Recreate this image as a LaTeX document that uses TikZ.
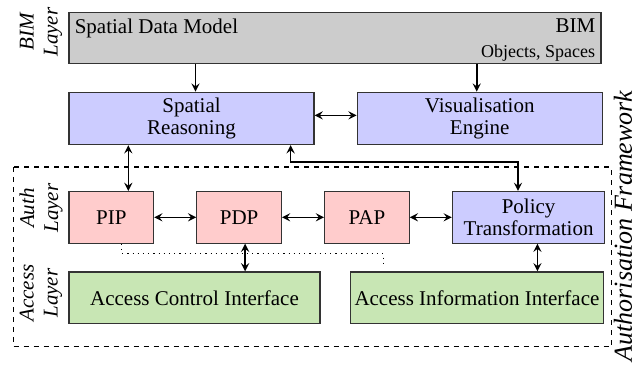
\documentclass[tikz,border=0pt]{standalone}
\usepackage{fontspec}
\setmainfont{Liberation Serif}
\usetikzlibrary{arrows, positioning}

\definecolor{bimgray}{RGB}{204,204,204}
\definecolor{svcblue}{RGB}{204,204,255}
\definecolor{authpink}{RGB}{255,204,204}
\definecolor{accgreen}{RGB}{200,230,180}

\tikzset{
  box/.style={draw=black!80, line width=0.6pt, minimum height=25.8pt, inner sep=2pt, align=center},
  layerlabel/.style={rotate=90, align=center, font=\fontsize{10.5}{12}\selectfont\itshape},
  link/.style={<->, >=stealth, line width=0.8pt},
  oneway/.style={->, >=stealth, line width=0.8pt},
}

\begin{document}
\begin{tikzpicture}[x=0.5pt, y=-0.5pt, node distance=21pt, font=\fontsize{10.5}{11}\selectfont]
        \useasboundingbox (0,0) rectangle (636,365);

        % BIM layer
        \node[box, fill=bimgray, minimum width=266pt, minimum height=25.3pt] (bim) at (335,38) {};
        \node[anchor=north west, inner sep=3pt] (sdm) at (bim.north west) {Spatial Data Model};
        \node[anchor=north east, inner sep=3pt] (bimname) at (bim.north east) {BIM};
        \node[anchor=north east, inner sep=3pt, font=\fontsize{9}{11}\selectfont] (bimobj) at (bimname.south east) {Objects, Spaces};

        \node[box, fill=svcblue, minimum width=122.5pt, minimum height=26.2pt, below right=13.85pt and 0pt of bim.south west] (sr) {Spatial\\Reasoning};
        \node[box, fill=svcblue, minimum width=122.5pt, minimum height=26.2pt, right=of sr] (ve) {Visualisation\\Engine};

        % auth layer
        \node[box, fill=authpink, minimum width=42.3pt, below right=22.85pt and 0pt of sr.south west] (pip) {PIP};
        \node[box, fill=authpink, minimum width=42.3pt, right=of pip] (pdp) {PDP};
        \node[box, fill=authpink, minimum width=42.3pt, right=of pdp] (pap) {PAP};
        \node[box, fill=svcblue, minimum width=76.2pt, right=of pap] (pt) {Policy\\Transformation};

        % access layer
        \node[box, fill=accgreen, minimum width=125.5pt, below right=13.8pt and 0pt of pip.south west] (aci) {Access Control Interface};
        \node[box, fill=accgreen, minimum width=125.8pt, right=14.65pt of aci] (aii) {Access Information Interface};

        \node[layerlabel] (bimlayer) at (41,32) {BIM\\Layer};
        \node[layerlabel] (authlayer) at (41,208) {Auth\\Layer};
        \node[layerlabel] (accesslayer) at (41,293) {Access\\Layer};

        \coordinate (fnw) at ([xshift=-27.5pt,yshift=12pt]pip.north west);
        \coordinate (fse) at ([xshift=3.65pt,yshift=-11.35pt]aii.south east);
        \draw[dash pattern=on 2.5pt off 2.5pt, line width=0.6pt] (fnw) rectangle (fse);
        \node[rotate=90, font=\fontsize{13}{15}\selectfont\itshape] (authfw) at (623,226) {Authorisation Framework};

        \coordinate (sepend) at ([xshift=16.7pt,yshift=2pt]aii.north west);
        \draw[dotted, line width=0.6pt] ([xshift=5.2pt]pip.south) -- ++(0,-5pt) -| (sepend);

        \draw[oneway] ([xshift=2pt]bim.south -| sr.north) -- ([xshift=2pt]sr.north);
        \draw[oneway] ([xshift=-1.5pt]bim.south -| ve.north) -- ([xshift=-1.5pt]ve.north);
        \draw[link] ([yshift=1.5pt]sr.east) -- ([yshift=1.5pt]ve.west);
        \draw[link] ([xshift=8.5pt]pip.north) -- ([xshift=8.5pt]pip.north |- sr.south);
        \draw[link] ([xshift=-12pt]sr.south east) -- ++(0,-8.35pt) -| ([xshift=-5.3pt]pt.north);
        \path[link] (pip) edge (pdp);
        \path[link] (pdp) edge (pap);
        \path[link] (pap) edge (pt);
        \draw[link] ([xshift=3pt]pdp.south) -- ([xshift=3pt]pdp.south |- aci.north);
        \draw[link] ([xshift=4.4pt]pt.south) -- ([xshift=4.4pt]pt.south |- aii.north);
    \end{tikzpicture}
\end{document}
